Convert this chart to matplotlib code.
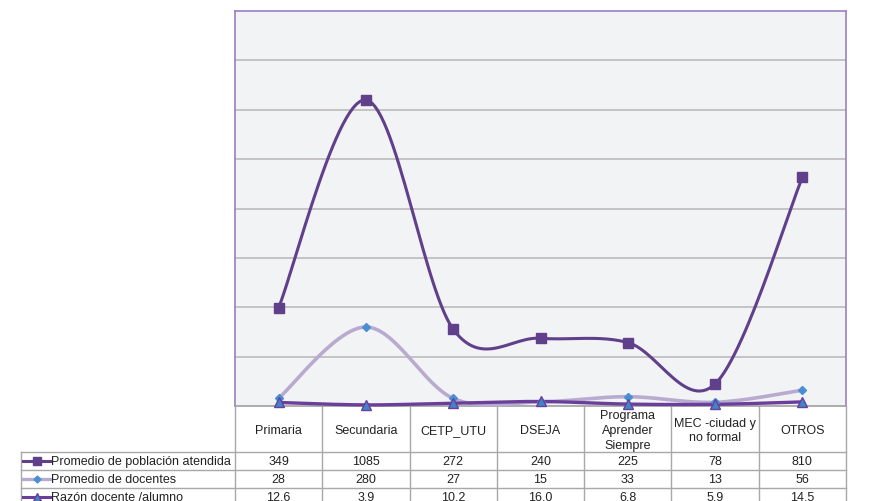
import numpy as np
import matplotlib
matplotlib.use("Agg")
import matplotlib.pyplot as plt
from matplotlib.lines import Line2D

plt.rcParams['font.family'] = ['Liberation Sans', 'DejaVu Sans']

categorias = ["Primaria", "Secundaria", "CETP_UTU", "DSEJA",
              "Programa\nAprender\nSiempre", "MEC -ciudad y\nno formal", "OTROS"]
poblacion = [349, 1085, 272, 240, 225, 78, 810]
docentes = [28, 280, 27, 15, 33, 13, 56]
razon = [12.6, 3.9, 10.2, 16.0, 6.8, 5.9, 14.5]
razon_txt = ["12.6", "3.9", "10.2", "16.0", "6.8", "5.9", "14.5"]
series_nombres = ["Promedio de población atendida", "Promedio de docentes",
                  "Razón docente /alumno"]

W, H = 869, 502


def suavizar(x, y, n=30):
    # curva tipo excel (catmull-rom)
    x = np.asarray(x, float)
    y = np.asarray(y, float)
    px = np.concatenate([[x[0]], x, [x[-1]]])
    py = np.concatenate([[y[0]], y, [y[-1]]])
    xs, ys = [], []
    for i in range(1, len(px) - 2):
        p0 = np.array([px[i - 1], py[i - 1]])
        p1 = np.array([px[i], py[i]])
        p2 = np.array([px[i + 1], py[i + 1]])
        p3 = np.array([px[i + 2], py[i + 2]])
        c1 = p1 + (p2 - p0) / 6
        c2 = p2 - (p3 - p1) / 6
        t = np.linspace(0, 1, n)[:, None]
        b = (1 - t) ** 3 * p1 + 3 * (1 - t) ** 2 * t * c1 + 3 * (1 - t) * t ** 2 * c2 + t ** 3 * p2
        xs.extend(b[:, 0])
        ys.extend(b[:, 1])
    return np.array(xs), np.array(ys)


fig = plt.figure(figsize=(W / 100, H / 100), dpi=100)

# area del grafico
x0, x1, y0, y1 = 235, 846, 12, 407
ax = fig.add_axes([x0 / W, 1 - y1 / H, (x1 - x0) / W, (y1 - y0) / H])
ax.set_facecolor("#f2f3f5")
ymax = 1400
ax.set_xlim(-0.5, len(categorias) - 0.5)
ax.set_ylim(0, ymax)
for g in np.linspace(0, ymax, 9)[1:-1]:
    ax.axhline(g, color="#bdbaba", lw=1.2, zorder=1)
ax.set_xticks([])
ax.set_yticks([])
for s in ax.spines.values():
    s.set_color("#9a7fc2")
    s.set_linewidth(1.2)
ax.spines["bottom"].set_color("#a0a0a0")

xi = np.arange(len(categorias))

c_pob = "#603f8b"
c_doc = "#b9abd0"
c_raz = "#6a3f9c"
c_azul = "#4a8ed4"

sx, sy = suavizar(xi, docentes)
ax.plot(sx, sy, color=c_doc, lw=2.6, zorder=3, clip_on=False)
ax.plot(xi, docentes, ls="none", marker="D", ms=4, color=c_azul, zorder=5, clip_on=False)

sx, sy = suavizar(xi, razon)
ax.plot(sx, sy, color=c_raz, lw=2.4, zorder=4, clip_on=False)
ax.plot(xi, razon, ls="none", marker="^", ms=7, mfc="#3e86c8", mec=c_raz, mew=1, zorder=6, clip_on=False)

sx, sy = suavizar(xi, poblacion)
ax.plot(sx, sy, color=c_pob, lw=2.2, zorder=4)
ax.plot(xi, poblacion, ls="none", marker="s", ms=7, color=c_pob, zorder=6)

# tabla de datos
tb = fig.add_axes([0, 0, 1, 1], zorder=-1)
tb.set_xlim(0, W)
tb.set_ylim(H, 0)
tb.axis("off")
lc = "#a8a8a8"
col_w = (x1 - x0) / len(categorias)
filas = [407, 453, 471, 489, 507]
tl = 21

for i in range(len(categorias) + 1):
    xx = x0 + i * col_w
    tb.plot([xx, xx], [filas[0], H + 5], color=lc, lw=1)
tb.plot([tl, tl], [filas[1], H + 5], color=lc, lw=1)
for yy in filas[1:]:
    tb.plot([tl, x1], [yy, yy], color=lc, lw=1)

fs = 9
for i, cat in enumerate(categorias):
    xc = x0 + (i + 0.5) * col_w
    tb.text(xc, (filas[0] + filas[1]) / 2 + 1, cat, ha="center", va="center",
            fontsize=fs, color="#222222", linespacing=1.3)

valores = [[str(v) for v in poblacion], [str(v) for v in docentes], razon_txt]
estilos = [dict(color=c_pob, marker="s", ms=6, lw=2.2),
           dict(color=c_doc, marker="D", ms=3.5, mfc=c_azul, mec=c_azul, lw=2.4),
           dict(color=c_raz, marker="^", ms=6, mfc="#3e86c8", mec=c_raz, lw=2.2)]
for r in range(3):
    yc = (filas[r + 1] + filas[r + 2]) / 2
    tb.add_line(Line2D([23, 36.5, 50], [yc, yc, yc], markevery=[1], **estilos[r]))
    tb.text(51, yc, series_nombres[r], ha="left", va="center", fontsize=fs, color="#222222")
    for i, v in enumerate(valores[r]):
        tb.text(x0 + (i + 0.5) * col_w, yc, v, ha="center", va="center",
                fontsize=fs, color="#222222")

fig.savefig("out.png", dpi=100)
